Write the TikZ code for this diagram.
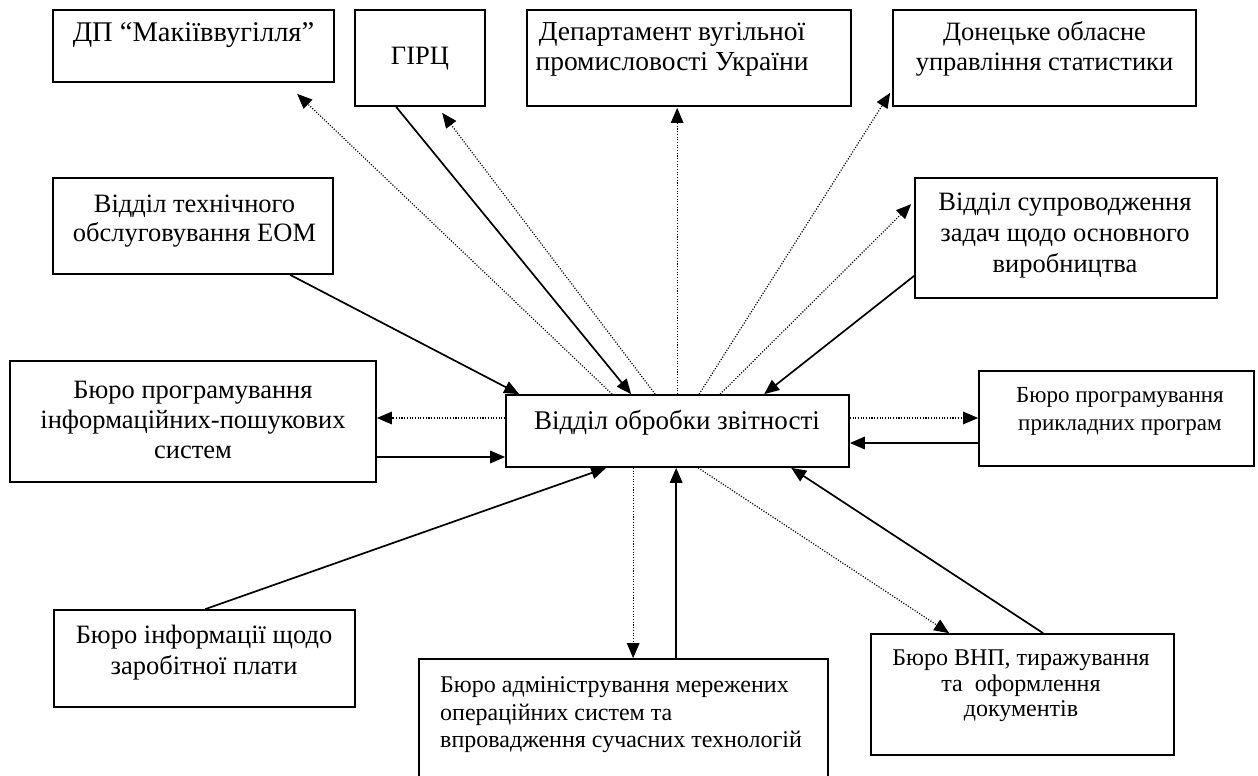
\documentclass[tikz,border=0pt]{standalone}
\usepackage{fontspec}
\setmainfont{Liberation Serif}
\usetikzlibrary{arrows.meta,calc}
\begin{document}
\begin{tikzpicture}[x=1pt,y=-1pt,
  box/.style={draw,line width=1.7pt,inner sep=0pt,rectangle},
  lbl/.style={inner sep=0pt,align=center,font=\fontsize{26.5}{30}\selectfont},
  solidarrow/.style={line width=1.7pt,-{Triangle[length=15pt,width=12.5pt]}},
  dotarrow/.style={line width=1.2pt,dash pattern=on 1.1pt off 1.6pt,-{Triangle[length=15pt,width=12.5pt]}}]
\clip (0,0) rectangle (1258,776);
% boxes
\node[box,minimum width=281pt,minimum height=72pt]  (dp)   at (193.5,46)   {};
\node[box,minimum width=130pt,minimum height=96pt]  (girc) at (420,58)     {};
\node[box,minimum width=324pt,minimum height=96pt]  (dep)  at (689,58)     {};
\node[box,minimum width=303pt,minimum height=96pt]  (don)  at (1044.5,58)  {};
\node[box,minimum width=280pt,minimum height=96pt]  (eom)  at (193,226)    {};
\node[box,minimum width=302pt,minimum height=120pt] (sup)  at (1066,238)   {};
\node[box,minimum width=366pt,minimum height=121pt] (ips)  at (193,421.5)  {};
\node[box,minimum width=343pt,minimum height=72pt]  (c)    at (677.5,431)  {};
\node[box,minimum width=275pt,minimum height=95pt]  (prk)  at (1116.5,418.5) {};
\node[box,minimum width=301pt,minimum height=97pt]  (zar)  at (204.5,658.5) {};
\node[box,minimum width=409pt,minimum height=141pt] (adm)  at (623.5,729.5) {};
\node[box,minimum width=303pt,minimum height=121pt] (vnp)  at (1022.5,694.5) {};
% labels
\node[lbl,font=\fontsize{28.5}{30}\selectfont] (dpt) at (193.5,35) {ДП “Макіїввугілля”};
\node[lbl] (girct) at (420,59) {ГІРЦ};
\node[lbl,font=\fontsize{27.5}{30}\selectfont] (dept) at (672,49) {Департамент вугільної\\промисловості України};
\node[lbl] (dont)  at (1044.5,49) {Донецьке обласне\\управління статистики};
\node[lbl,font=\fontsize{26.5}{29}\selectfont] (eomt) at (194.5,221) {Відділ технічного\\обслуговування ЕОМ};
\node[lbl,font=\fontsize{26.5}{31}\selectfont] (supt) at (1065,236) {Відділ супроводження\\задач щодо основного\\виробництва};
\node[lbl] (ipst)  at (193,420) {Бюро програмування\\інформаційних-пошукових\\систем};
\node[lbl,font=\fontsize{27}{30}\selectfont] (ct) at (677,423) {Відділ обробки звітності};
\node[lbl,font=\fontsize{23}{28}\selectfont] (prkt) at (1120,411) {Бюро програмування\\прикладних програм};
\node[lbl,font=\fontsize{26.5}{31}\selectfont] (zart) at (204,652.5) {Бюро інформації щодо\\заробітної плати};
\node[lbl,align=left,anchor=west,font=\fontsize{24}{27.5}\selectfont] (admt) at (440,715) {Бюро адміністрування мережених\\операційних систем та\\впровадження сучасних технологій};
\node[lbl,font=\fontsize{24}{25.5}\selectfont] (vnpt) at (1021,686) {Бюро ВНП, тиражування\\та\ \ оформлення\\документів};
% connectors at top of central box
\draw[dotarrow]   ($(c.north west)+(107,0)$) -- ($(dp.south west)+(245,11)$);
\draw[solidarrow] ($(eom.south west)+(238,0)$) -- ($(c.north west)+(14,0)$);
\draw[solidarrow] ($(girc.south west)+(42,0)$) -- ($(c.north west)+(126,0)$);
\draw[dotarrow]   ($(c.north west)+(150,0)$) -- ($(girc.south west)+(88,6)$);
\draw[dotarrow]   ($(c.north west)+(172,0)$) -- ($(dep.south west)+(151,1)$);
\draw[dotarrow]   ($(c.north west)+(194,0)$) -- ($(don.south west)+(-2,-14)$);
\draw[dotarrow]   ($(c.north west)+(215,0)$) -- ($(sup.north west)+(-3,27)$);
\draw[solidarrow] ($(sup.south west)+(0,-23)$) -- ($(c.north west)+(259,0)$);
% sides
\draw[dotarrow]   ($(c.west)+(0,-13)$) -- ($(ips.east)+(0,-3.5)$);
\draw[solidarrow] ($(ips.east)+(0,35.5)$) -- ($(c.west)+(0,26)$);
\draw[dotarrow]   ($(c.east)+(0,-13)$) -- ($(prk.west)+(0,-0.5)$);
\draw[solidarrow] ($(prk.west)+(0,24.5)$) -- ($(c.east)+(0,12)$);
% bottom
\draw[solidarrow] ($(zar.north west)+(152,0)$) -- ($(c.south west)+(101,0)$);
\draw[dotarrow]   ($(c.south west)+(128,0)$) -- ($(adm.north west)+(215,0)$);
\draw[solidarrow] ($(adm.north west)+(258,0)$) -- ($(c.south west)+(171,0)$);
\draw[dotarrow]   ($(c.south west)+(193,0)$) -- ($(vnp.north west)+(79,0)$);
\draw[solidarrow] ($(vnp.north west)+(173,0)$) -- ($(c.south west)+(286,0)$);
\end{tikzpicture}
\end{document}
